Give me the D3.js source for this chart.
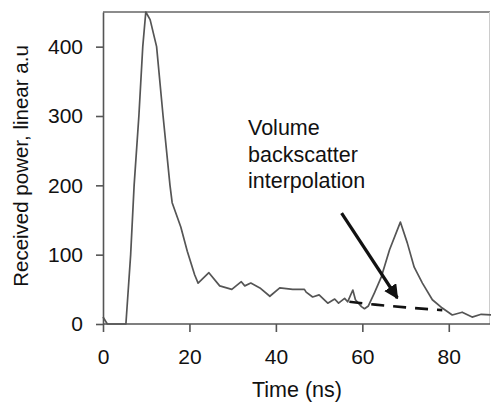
<!DOCTYPE html>
<html>
<head>
<meta charset="utf-8">
<script src="https://cdn.jsdelivr.net/npm/d3@7"></script>
<style>
  body { margin: 0; background: #fff; }
  text { font-family: "Liberation Sans", Arial, sans-serif; fill: #111; }
</style>
</head>
<body>
<svg id="chart" width="491" height="406"></svg>
<script>
// time (ns) and received power of the waveform
var times = [0, 1, 5.3, 6.4, 7.2, 8.3, 9.2, 9.9, 10.9, 12.4, 13.9, 15.5, 16, 18, 19.5, 21.2, 22,
  24.5, 27, 29.8, 32, 32.8, 34.2, 36.3, 38.6, 40.9, 43.9, 46.6, 47, 48.5, 50, 52, 53.6, 54.5,
  55.9, 56.6, 57.8, 58.4, 59.8, 60.5, 61.4, 62.8, 64.4, 66.3, 68.8, 70.4, 72, 73.9, 76.2,
  78.5, 80.8, 83.1, 85.4, 87.5, 90];
var power = [10, 0, 0, 100, 200, 300, 400, 450, 439, 400, 300, 200, 175, 140, 105, 71, 59,
  74, 55, 50, 61, 55, 59, 52, 40, 52, 50, 50, 46, 39, 42, 30, 36, 30,
  37, 32, 49, 35, 25, 22, 26, 45, 68, 107, 147, 117, 82, 59, 35,
  23, 13, 17, 10, 14, 13];
// dashed volume backscatter interpolation
var interpTimes = [57, 63, 70, 78.5];
var interpPower = [32, 28, 24, 20];
// arrow start / tip in data units
var arrowFrom = [55.2, 160];
var arrowTo = [68.1, 37.5];

var xTicks = [0, 20, 40, 60, 80];
var yTicks = [0, 100, 200, 300, 400];

var svg = d3.select('#chart');
var margin = { top: 12, right: 1, bottom: 82, left: 103 };
var W = 491, H = 406;

var x = d3.scaleLinear().domain([0, 90]).range([margin.left, 492]);
var y = d3.scaleLinear().domain([0, 450]).range([H - margin.bottom, margin.top]);

// frame top / right
svg.append('line')
    .attr('x1', margin.left).attr('x2', W - 1)
    .attr('y1', margin.top).attr('y2', margin.top)
    .attr('stroke', '#666').attr('stroke-width', 1.5);
svg.append('line')
    .attr('x1', W - 1.5).attr('x2', W - 1.5)
    .attr('y1', margin.top).attr('y2', y(0))
    .attr('stroke', '#ccc').attr('stroke-width', 1);

var xAxis = svg.append('g')
    .attr('transform', 'translate(0,' + y(0) + ')')
    .call(d3.axisBottom(x).tickValues(xTicks).tickSizeInner(8).tickSizeOuter(0).tickPadding(17));
var yAxis = svg.append('g')
    .attr('transform', 'translate(' + margin.left + ',0)')
    .call(d3.axisLeft(y).tickValues(yTicks).tickSizeInner(7).tickSizeOuter(0).tickPadding(13));

[xAxis, yAxis].forEach(function (g) {
    g.select('.domain').attr('stroke', '#555').attr('stroke-width', 1.6);
    g.selectAll('.tick line').attr('stroke', '#555').attr('stroke-width', 1.6);
    g.selectAll('.tick text').attr('font-size', 21)
        .attr('font-family', '"Liberation Sans", Arial, sans-serif').attr('fill', '#111');
});
// extend x domain to full width
xAxis.select('.domain').attr('d', 'M' + margin.left + ',0H' + (W - 1));

var line = d3.line()
    .x(function (d) { return x(d[0]); })
    .y(function (d) { return y(d[1]); });

svg.append('path')
    .datum(d3.zip(times, power))
    .attr('d', line)
    .attr('fill', 'none')
    .attr('stroke', '#555')
    .attr('stroke-width', 1.7)
    .attr('stroke-linejoin', 'round');

svg.append('path')
    .datum(d3.zip(interpTimes, interpPower))
    .attr('d', d3.line().curve(d3.curveMonotoneX)
        .x(function (d) { return x(d[0]); })
        .y(function (d) { return y(d[1]); }))
    .attr('fill', 'none')
    .attr('stroke', '#111')
    .attr('stroke-width', 2.6)
    .attr('stroke-dasharray', '13,9');

// arrow
svg.append('defs').append('marker')
    .attr('id', 'head')
    .attr('viewBox', '0 0 10 10')
    .attr('refX', 9).attr('refY', 5)
    .attr('markerWidth', 4.5).attr('markerHeight', 4.5)
    .attr('orient', 'auto')
    .append('path').attr('d', 'M0,0L10,5L0,10Z').attr('fill', '#111');

svg.append('line')
    .attr('x1', x(arrowFrom[0])).attr('y1', y(arrowFrom[1]))
    .attr('x2', x(arrowTo[0])).attr('y2', y(arrowTo[1]))
    .attr('stroke', '#111').attr('stroke-width', 3.2)
    .attr('marker-end', 'url(#head)');

// annotation
var note = svg.append('text')
    .attr('x', 248).attr('y', 135)
    .attr('font-size', 21.5);
['Volume', 'backscatter', 'interpolation'].forEach(function (s, i) {
    note.append('tspan').attr('x', 248).attr('dy', i ? 26.5 : 0).text(s);
});

// axis titles
svg.append('text')
    .attr('x', 297).attr('y', 397)
    .attr('text-anchor', 'middle')
    .attr('font-size', 21.5)
    .text('Time (ns)');

svg.append('text')
    .attr('transform', 'translate(28,' + ((margin.top + y(0)) / 2 - 2) + ') rotate(-90)')
    .attr('text-anchor', 'middle')
    .attr('font-size', 20.5)
    .text('Received power, linear a.u');
</script>
</body>
</html>
